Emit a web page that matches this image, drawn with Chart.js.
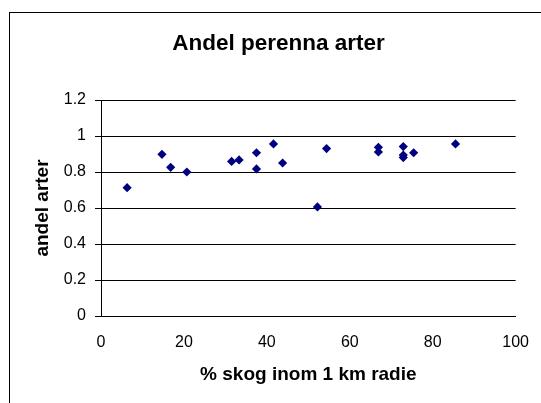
<!DOCTYPE html>
<html>
<head>
<meta charset="utf-8">
<script src="https://cdn.jsdelivr.net/npm/chart.js@4/dist/chart.umd.min.js"></script>
<style>
  html, body { margin: 0; padding: 0; background: #fff; }
  #wrap { width: 541px; height: 403px; }
</style>
</head>
<body>
<div id="wrap"><canvas id="chart" width="541" height="403"></canvas></div>
<script>
"use strict";

// Data ----------------------------------------------------------------------
const forestPct = [6.3, 14.7, 16.8, 20.7, 31.5, 33.3, 37.5, 37.5, 41.6, 43.8,
  52.2, 54.4, 66.9, 66.9, 72.9, 72.9, 72.9, 75.4, 85.5];
const perennialShare = [0.713, 0.898, 0.826, 0.80, 0.859, 0.867, 0.907, 0.817, 0.956, 0.85,
  0.606, 0.93, 0.937, 0.911, 0.941, 0.894, 0.88, 0.907, 0.956];
const xTicks = [0, 20, 40, 60, 80, 100];
const yTicks = [0, 0.2, 0.4, 0.6, 0.8, 1, 1.2];

const points = forestPct.map((x, i) => ({ x, y: perennialShare[i] }));

// Outer frame like the spreadsheet chart box --------------------------------
const frame = {
  id: "frame",
  beforeDraw(chart) {
    const ctx = chart.ctx;
    ctx.save();
    ctx.fillStyle = "#fff";
    ctx.fillRect(0, 0, chart.width, chart.height);
    ctx.strokeStyle = "#000";
    ctx.lineWidth = 1;
    ctx.strokeRect(9.5, 12.5, 600, 500);
    ctx.restore();
  },
};

const font = "Arial, 'Liberation Sans', sans-serif";

new Chart(document.getElementById("chart"), {
  type: "scatter",
  data: {
    datasets: [{
      data: points,
      pointStyle: "rectRot",
      pointRadius: 4.6,
      backgroundColor: "#000080",
      borderColor: "#000080",
      borderWidth: 0,
    }],
  },
  options: {
    responsive: false,
    animation: false,
    // left padding centres the title on the framed box, not the canvas
    layout: { padding: { left: 16, right: 0, top: 0, bottom: 0 } },
    plugins: {
      legend: { display: false },
      tooltip: { enabled: false },
      title: {
        display: true,
        text: "Andel perenna arter",
        color: "#000",
        font: { family: font, size: 22.5, weight: "bold" },
        padding: { top: 30.5, bottom: 42.5 },
      },
    },
    scales: {
      x: {
        type: "linear",
        min: 0,
        max: 100,
        afterBuildTicks: (s) => { s.ticks = xTicks.map((v) => ({ value: v })); },
        afterFit: (s) => { s.height = 87; },
        ticks: { color: "#000", font: { family: font, size: 16 }, padding: 12, maxRotation: 0 },
        grid: { display: false, drawOnChartArea: false, tickLength: 5, color: "#000" },
        border: { display: true, color: "#000" },
        title: {
          display: true,
          text: "% skog inom 1 km radie",
          color: "#000",
          font: { family: font, size: 19, weight: "bold" },
          padding: { top: 0, bottom: 16.6 },
        },
      },
      y: {
        type: "linear",
        min: 0,
        max: 1.2,
        afterBuildTicks: (s) => { s.ticks = yTicks.map((v) => ({ value: v })); },
        afterFit: (s) => { s.width = 85; },
        ticks: {
          color: "#000",
          font: { family: font, size: 16 },
          padding: 9,
          callback: (v) => String(Math.round(v * 10) / 10),
        },
        grid: { color: "#000", tickLength: 6, lineWidth: 1 },
        border: { display: true, color: "#000" },
        title: {
          display: true,
          text: "andel arter",
          color: "#000",
          font: { family: font, size: 19, weight: "bold" },
          padding: { top: 15.6, bottom: 0 },
        },
      },
    },
  },
  plugins: [frame],
});
</script>
</body>
</html>
